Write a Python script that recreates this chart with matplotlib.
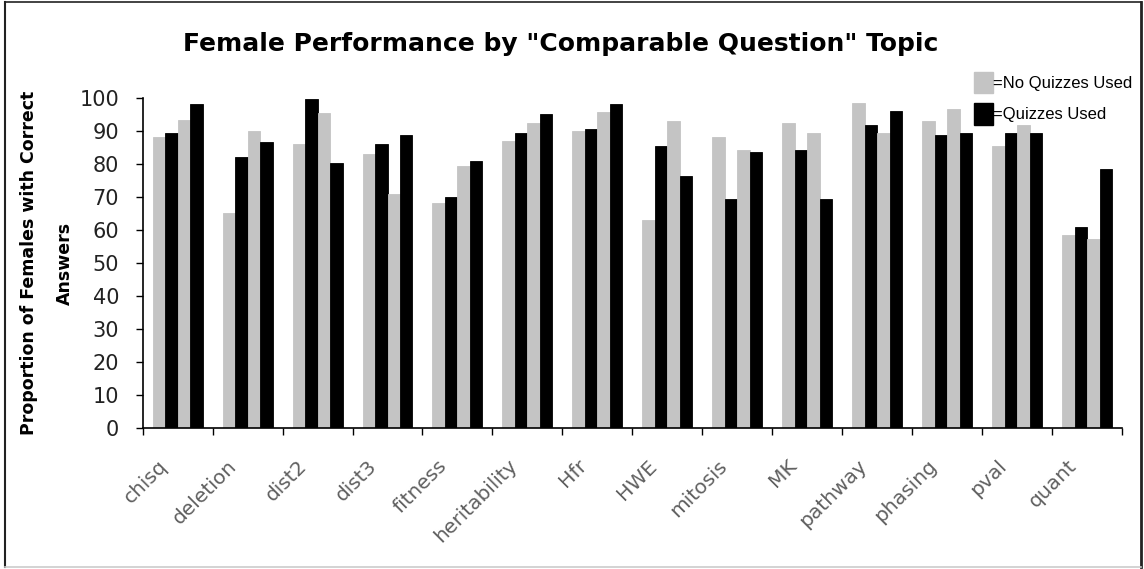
import matplotlib
matplotlib.use("Agg")
import matplotlib.pyplot as plt
import matplotlib.patches as mpatches
from matplotlib.lines import Line2D
from matplotlib.transforms import ScaledTranslation
import numpy as np

topics = ["chisq", "deletion", "dist2", "dist3", "fitness", "heritability", "Hfr",
          "HWE", "mitosis", "MK", "pathway", "phasing", "pval", "quant"]

# Two comparable question sets per topic, each with and without quizzes
no_quiz_set1 = [88, 65, 86, 83, 68, 87, 89.8, 63, 88, 92.4, 98.5, 92.8, 85.3, 58.4]
quiz_set1 = [89.4, 82, 99.5, 86, 70, 89.4, 90.6, 85.5, 69.5, 84.3, 91.6, 88.7, 89.2, 61]
no_quiz_set2 = [93.4, 89.8, 95.5, 71, 79.3, 92.2, 95.6, 93, 84.3, 89.4, 89.2, 96.7, 91.6, 57.4]
quiz_set2 = [98.1, 86.5, 80.3, 88.7, 81, 95, 98.1, 76.2, 83.5, 69.5, 96, 89.2, 89.2, 78.5]

y_ticks = list(range(0, 101, 10))

GRAY = "#c4c4c4"
BLACK = "#000000"

fig = plt.figure(figsize=(11.44, 5.69), dpi=100)
ax = fig.add_axes([0.1247, 0.2473, 0.8561, 0.581])

n = len(topics)
centers = np.arange(n) + 0.5
w = 0.1786
series = [(no_quiz_set1, GRAY), (quiz_set1, BLACK), (no_quiz_set2, GRAY), (quiz_set2, BLACK)]
for k, (vals, col) in enumerate(series):
    ax.bar(centers + (k - 1.5) * w, vals, width=w, color=col,
           edgecolor=col, linewidth=0.6)

ax.set_xlim(0, n)
ax.set_ylim(0, 100)
ax.spines["top"].set_visible(False)
ax.spines["right"].set_visible(False)
for s in ("left", "bottom"):
    ax.spines[s].set_linewidth(1.2)

ax.set_yticks(y_ticks)
ax.set_yticklabels([str(t) for t in y_ticks], fontsize=15, color="#222222")
ax.tick_params(axis="y", length=5, width=1, pad=12)

# boundaries carry the tick marks, centres carry the topic names
ax.set_xticks(np.arange(n + 1))
ax.set_xticklabels([])
ax.tick_params(axis="x", which="major", length=5, width=1)
ax.set_xticks(centers, minor=True)
ax.set_xticklabels(topics, minor=True, rotation=45, ha="right", va="top",
                   rotation_mode="anchor", fontsize=14.5, color="#606060")
ax.tick_params(axis="x", which="minor", length=0, pad=20)
off = ScaledTranslation(-0.2, 0, fig.dpi_scale_trans)
for lbl in ax.get_xticklabels(minor=True):
    lbl.set_transform(lbl.get_transform() + off)

ax.set_ylabel("Proportion of Females with Correct\nAnswers", fontsize=12.5,
              fontweight="bold", linespacing=2.3, labelpad=4)

fig.text(0.49, 0.922, 'Female Performance by "Comparable Question" Topic',
         ha="center", va="center", fontsize=18, fontweight="bold")

handles = [mpatches.Patch(color=GRAY), mpatches.Patch(color=BLACK)]
fig.legend(handles, ["=No Quizzes Used", "=Quizzes Used"], loc="upper right",
           bbox_to_anchor=(1.003, 0.9), frameon=False,
           handlelength=1.15, handleheight=1.6, handletextpad=0.0,
           labelspacing=0.6, prop={"family": "Liberation Sans", "size": 12})

# outer frame around the whole chart
fx0, fx1, fy0, fy1 = 5 / 1144, 1141 / 1144, 1 - 567 / 569, 1 - 2 / 569
for xs, ys, col, lw in [([fx0, fx0], [fy0, fy1], "#222222", 1.5),
                        ([fx0, fx1], [fy1, fy1], "#222222", 1.2),
                        ([fx1, fx1], [fy0, fy1], "#222222", 2.0),
                        ([fx0, fx1], [fy0, fy0], "#cccccc", 1.2)]:
    fig.lines.append(Line2D(xs, ys, transform=fig.transFigure, color=col, lw=lw))

fig.savefig("out.png", dpi=100)
